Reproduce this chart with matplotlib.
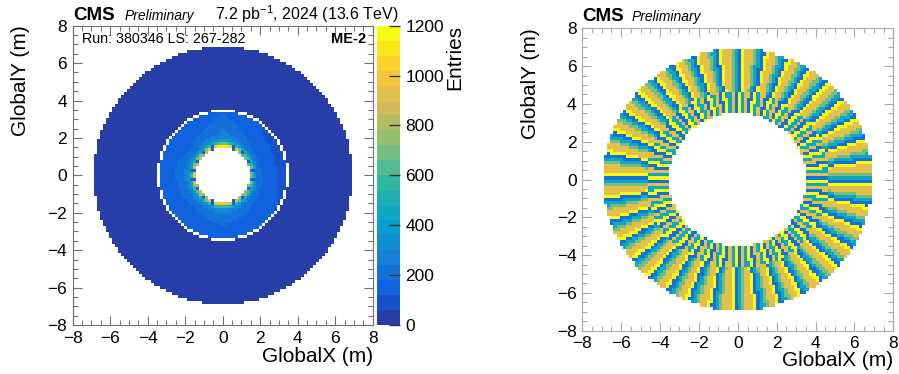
import numpy as np
import matplotlib
matplotlib.use('Agg')
import matplotlib.pyplot as plt
from matplotlib.colors import LinearSegmentedColormap, ListedColormap, BoundaryNorm
from matplotlib.ticker import MultipleLocator

plt.rcParams['font.family'] = ['Liberation Sans', 'DejaVu Sans']
plt.rcParams['mathtext.fontset'] = 'custom'
plt.rcParams['mathtext.rm'] = 'Liberation Sans'
plt.rcParams['mathtext.it'] = 'Liberation Sans:italic'
plt.rcParams['mathtext.bf'] = 'Liberation Sans:bold'

# ---------------- data ----------------
n_bins = 100
axis_lo, axis_hi = -8.0, 8.0

# left: ME-2 occupancy (entries)
ring1_r_inner = 1.45
ring1_r_outer = 3.38
ring2_r_inner = 3.50
ring2_r_outer = 6.90
ring1_radius = [1.45, 1.55, 1.67, 1.80, 1.95, 2.20, 2.60, 3.00, 3.38]
ring1_entries = [740, 890, 540, 320, 235, 190, 160, 140, 130]
ring1_phi = [0, 45, 90, 135, 180, 225, 270, 315, 360]
ring1_phi_factor = [0.80, 0.85, 1.35, 0.95, 1.10, 1.00, 1.15, 0.95, 0.80]
ring1_n_chambers = 18
ring1_corner_entries = 140
ring2_entries = 30
z_max = 1200
n_contours = 20
cbar_ticks = [0, 200, 400, 600, 800, 1000, 1200]

# right: ME-2/2 strip map (strip value per chamber segment)
me22_n_chambers = 36
me22_r_inner = 3.52
me22_r_split = 4.70
me22_r_outer = 6.92
outer_strip_values = [4, 5, 1, 2, 3, 4]
inner_strip_values = [2, 5, 1, 4]
strip_levels = [1, 2, 3, 4, 5]

# ---------------- palette (ROOT kBird) ----------------
bird_stops = [0.0, 0.125, 0.25, 0.375, 0.5, 0.625, 0.75, 0.875, 1.0]
bird_r = [0.2082, 0.0592, 0.0780, 0.0232, 0.1802, 0.5301, 0.8186, 0.9956, 0.9764]
bird_g = [0.1664, 0.3599, 0.5041, 0.6419, 0.7178, 0.7492, 0.7328, 0.7862, 0.9832]
bird_b = [0.5293, 0.8684, 0.8385, 0.7914, 0.6425, 0.4662, 0.3499, 0.1968, 0.0539]
bird = LinearSegmentedColormap.from_list(
    'bird', [(s, (r, g, b)) for s, r, g, b in zip(bird_stops, bird_r, bird_g, bird_b)])

edges = np.linspace(axis_lo, axis_hi, n_bins + 1)
centers = 0.5 * (edges[:-1] + edges[1:])
X, Y = np.meshgrid(centers, centers)
R = np.hypot(X, Y)
PHI = np.degrees(np.arctan2(Y, X)) % 360.0

# left histogram
Z = np.full(R.shape, np.nan)
m1 = (R >= ring1_r_inner) & (R < ring1_r_outer)
prof = np.interp(R, ring1_radius, ring1_entries)
fac = np.interp(PHI, ring1_phi, ring1_phi_factor)
Z[m1] = (prof * fac)[m1]
dchb = np.abs((PHI - 10.0 + 10.0) % (360.0 / ring1_n_chambers) - 10.0)
corner = m1 & (R < 1.70) & (dchb < 2.5)
Z[corner] = ring1_corner_entries
m2 = (R >= ring2_r_inner) & (R < ring2_r_outer)
Z[m2] = ring2_entries

# right histogram
S = np.full(R.shape, np.nan)
cw = 360.0 / me22_n_chambers
local = (PHI + cw / 2) % cw
n_out = len(outer_strip_values)
n_in = len(inner_strip_values)
idx_out = np.minimum((local / (cw / n_out)).astype(int), n_out - 1)
idx_in = np.minimum((local / (cw / n_in)).astype(int), n_in - 1)
mo = (R >= me22_r_split) & (R < me22_r_outer)
mi = (R >= me22_r_inner) & (R < me22_r_split)
S[mo] = np.array(outer_strip_values)[idx_out][mo]
S[mi] = np.array(inner_strip_values)[idx_in][mi]

# ---------------- figure ----------------
W, H = 899, 374
fig = plt.figure(figsize=(W / 100, H / 100), dpi=100)

def fbox(l, t, r, b):
    return [l / W, 1 - b / H, (r - l) / W, (b - t) / H]

ax1 = fig.add_axes(fbox(72.7, 25.7, 372.7, 325.0))
cax = fig.add_axes(fbox(377.3, 25.7, 400.0, 325.0))
ax2 = fig.add_axes(fbox(582.3, 28.3, 893.3, 330.7))

lev_colors = [bird((i + 1) / n_contours) for i in range(n_contours)]
cmap1 = ListedColormap(lev_colors)
norm1 = BoundaryNorm(np.linspace(0, z_max, n_contours + 1), n_contours)
mesh = ax1.pcolormesh(edges, edges, np.ma.masked_invalid(Z), cmap=cmap1, norm=norm1,
                      shading='flat', rasterized=True)

strip_colors = [bird(v / max(strip_levels)) for v in strip_levels]
cmap2 = ListedColormap(strip_colors)
norm2 = BoundaryNorm(np.arange(0.5, 6.0, 1.0), len(strip_levels))
ax2.pcolormesh(edges, edges, np.ma.masked_invalid(S), cmap=cmap2, norm=norm2,
               shading='flat', rasterized=True)

for ax, sc in ((ax1, '#707070'), (ax2, '#a8a8a8')):
    ax.set_xlim(axis_lo, axis_hi)
    ax.set_ylim(axis_lo, axis_hi)
    ax.xaxis.set_major_locator(MultipleLocator(2))
    ax.yaxis.set_major_locator(MultipleLocator(2))
    ax.xaxis.set_minor_locator(MultipleLocator(0.5))
    ax.yaxis.set_minor_locator(MultipleLocator(0.5))
    ax.tick_params(which='both', direction='in', top=True, right=True, color=sc,
                   labelsize=12.5, labelcolor='black')
    ax.tick_params(which='major', length=6.5, width=0.8)
    ax.tick_params(which='minor', length=3.3, width=0.8)
    ax.tick_params(axis='x', pad=4)
    ax.tick_params(axis='y', pad=4)
    for sp in ax.spines.values():
        sp.set_color(sc)
        sp.set_linewidth(0.8)

cb = fig.colorbar(mesh, cax=cax, ticks=cbar_ticks)
cb.outline.set_visible(False)
cax.tick_params(direction='in', length=8, width=1.0, right=True, left=False,
                labelsize=12.5, pad=4, color='#333333')
cax.minorticks_off()

# labels
fig.text(372.7 / W, 1 - 361.5 / H, 'GlobalX (m)', ha='right', va='baseline', fontsize=15)
fig.text(893.3 / W, 1 - 365.5 / H, 'GlobalX (m)', ha='right', va='baseline', fontsize=15)
fig.text(21 / W, 1 - 25 / H, 'GlobalY (m)', rotation=90, ha='center', va='top', fontsize=15)
fig.text(531 / W, 1 - 28 / H, 'GlobalY (m)', rotation=90, ha='center', va='top', fontsize=15)
fig.text(455 / W, 1 - 25 / H, 'Entries', rotation=90, ha='center', va='top', fontsize=15)

fig.text(73 / W, 1 - 20 / H, 'CMS', ha='left', va='baseline', fontsize=13.5, fontweight='bold')
fig.text(125 / W, 1 - 20 / H, 'Preliminary', ha='left', va='baseline', fontsize=10, fontstyle='italic')
fig.text(398 / W, 1 - 20 / H, r'7.2 pb$^{-1}$, 2024 (13.6 TeV)', ha='right', va='baseline', fontsize=11.5)
fig.text(82 / W, 1 - 43 / H, 'Run: 380346 LS: 267-282', ha='left', va='baseline', fontsize=10.3)
fig.text(366 / W, 1 - 43 / H, 'ME-2', ha='right', va='baseline', fontsize=10.5, fontweight='bold')

fig.text(582 / W, 1 - 21 / H, 'CMS', ha='left', va='baseline', fontsize=13.5, fontweight='bold')
fig.text(632 / W, 1 - 21 / H, 'Preliminary', ha='left', va='baseline', fontsize=10, fontstyle='italic')

fig.savefig('out.png', dpi=100)
